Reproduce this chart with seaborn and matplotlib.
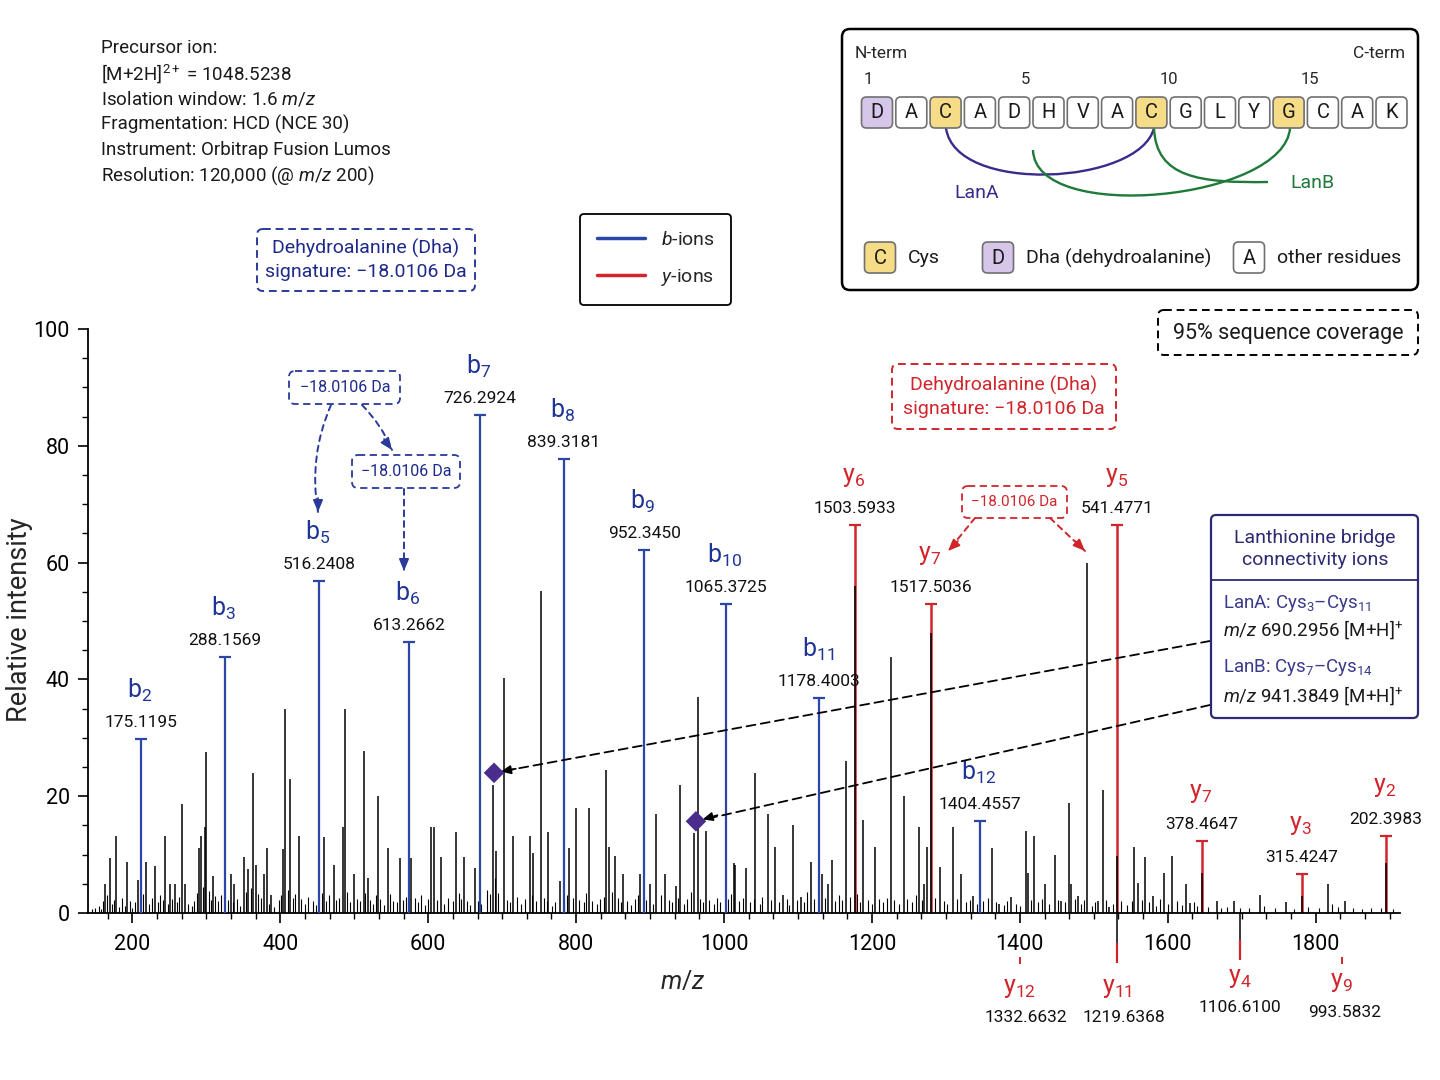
import matplotlib
matplotlib.use("Agg")
import matplotlib.pyplot as plt
import seaborn as sns
import pandas as pd
from matplotlib.patches import FancyBboxPatch, PathPatch
from matplotlib.path import Path
from matplotlib.lines import Line2D
from matplotlib.ticker import MultipleLocator

# ---------------- data ----------------
peak_mz = [163, 170, 178, 193, 207, 218, 231, 244, 251, 257, 267, 271, 290, 293, 298, 300,
           309, 333, 338, 351, 357, 363, 367, 378, 382, 388, 403, 407, 413, 425, 459, 472,
           485, 487, 500, 513, 518, 532, 545, 562, 577, 604, 608, 617, 638, 648, 663, 687,
           692, 703, 715, 737, 742, 752, 762, 778, 791, 800, 817, 841, 845, 853, 864, 886,
           900, 908, 920, 935, 941, 959, 965, 975, 1013, 1015, 1030, 1042, 1059, 1069, 1080,
           1093, 1104, 1117, 1133, 1140, 1146, 1165, 1177, 1188, 1204, 1226, 1243, 1264,
           1270, 1274, 1280, 1292, 1310, 1321, 1337, 1363, 1372, 1388, 1408, 1411, 1419,
           1434, 1447, 1456, 1466, 1469, 1478, 1491, 1506, 1512, 1521, 1531, 1555, 1560,
           1569, 1580, 1595, 1606, 1625, 1630, 1646, 1666, 1690, 1725, 1760, 1781, 1816,
           1839, 1895]
peak_int = [5.0, 9.5, 13.1, 8.7, 5.6, 8.8, 8.0, 13.1, 5.0, 5.0, 18.6, 4.9, 11.1, 13.1, 14.8, 27.6,
            6.3, 6.7, 5.0, 9.6, 7.6, 23.9, 8.3, 6.7, 11.2, 3.0, 11.0, 35.0, 22.9, 13.1, 13.0, 8.2,
            14.8, 35.0, 6.7, 27.7, 6.0, 20.0, 11.2, 9.5, 9.5, 14.8, 14.8, 9.6, 13.9, 9.6, 7.7, 21.9,
            10.7, 40.2, 13.1, 13.1, 10.3, 55.1, 13.9, 5.5, 11.2, 17.9, 17.9, 24.5, 11.3, 9.7, 6.7, 6.7,
            4.9, 16.9, 6.7, 4.7, 21.9, 13.7, 37.0, 14.0, 8.6, 8.2, 7.7, 23.9, 17.0, 11.3, 3.0,
            15.0, 2.7, 8.7, 6.7, 4.9, 9.1, 26.1, 56.0, 15.9, 11.3, 43.8, 20.0, 14.8,
            4.9, 11.3, 48.0, 7.9, 14.8, 6.7, 2.9, 11.2, 1.5, 2.8, 14.0, 6.8, 13.2,
            5.0, 10.0, 2.0, 18.8, 4.9, 2.9, 60.0, 2.0, 21.0, 1.0, 9.7, 11.3, 5.1,
            9.6, 2.9, 6.8, 9.7, 5.0, 1.7, 6.8, 2.0, 2.1, 3.0, 1.8, 2.9, 5.0,
            2.0, 8.6]

noise_mz = [145, 150, 155, 158, 160, 166, 172, 175, 182, 186, 190, 197, 200, 203, 210, 215, 222,
            226, 235, 238, 241, 248, 254, 260, 263, 275, 280, 284, 287, 295, 303, 306, 312, 316,
            320, 329, 336, 342, 346, 354, 360, 370, 374, 385, 392, 398, 401, 410, 417, 420, 428,
            433, 438, 444, 448, 456, 462, 466, 475, 480, 490, 494, 504, 508, 515, 521, 526, 529,
            535, 540, 549, 553, 558, 566, 570, 582, 586, 590, 595, 600, 612, 622, 627, 633, 641,
            644, 652, 657, 667, 672, 680, 684, 690, 695, 706, 710, 720, 725, 731, 740, 746, 756,
            760, 768, 772, 784, 788, 796, 804, 810, 813, 822, 828, 832, 838, 848, 857, 861, 869,
            874, 879, 883, 895, 904, 915, 925, 930, 938, 946, 950, 955, 968, 972, 980, 986, 990,
            995, 1005, 1010, 1020, 1025, 1035, 1040, 1048, 1052, 1063, 1075, 1085, 1088, 1098,
            1108, 1112, 1122, 1128, 1137, 1150, 1155, 1160, 1170, 1180, 1184, 1195, 1200, 1210,
            1215, 1220, 1230, 1236, 1248, 1254, 1260, 1268, 1285, 1298, 1302, 1315, 1327, 1333,
            1342, 1350, 1357, 1368, 1378, 1383, 1395, 1400, 1415, 1425, 1430, 1440, 1452, 1461,
            1474, 1483, 1487, 1497, 1502, 1516, 1526, 1537, 1545, 1552, 1565, 1575, 1584, 1590,
            1600, 1612, 1619, 1635, 1640, 1655, 1672, 1680, 1698, 1710, 1730, 1745, 1770, 1790,
            1805, 1822, 1830, 1850, 1862, 1875, 1888, 1905]
noise_int = [0.6, 0.8, 1.2, 0.7, 2.0, 3.0, 1.5, 2.2, 1.0, 2.5, 1.2, 2.0, 0.9, 1.8, 2.4, 3.2, 1.5,
             2.6, 1.8, 3.0, 2.2, 1.6, 2.4, 1.8, 2.8, 1.5, 1.2, 2.0, 3.5, 4.5, 3.8, 2.2, 2.9, 2.0,
             3.1, 2.2, 1.8, 2.4, 1.2, 3.6, 4.2, 3.2, 2.6, 1.5, 1.0, 2.2, 3.0, 4.0, 2.5, 3.2, 2.4,
             1.5, 2.8, 2.0, 1.4, 3.5, 2.0, 3.0, 2.2, 2.6, 3.6, 1.8, 2.4, 2.0, 3.4, 2.2, 1.6, 3.0,
             2.4, 1.4, 3.2, 2.0, 1.8, 2.2, 2.8, 2.6, 1.8, 3.0, 1.4, 2.4, 2.2, 1.6, 2.6, 2.0, 3.4,
             2.4, 2.0, 1.4, 2.0, 1.5, 4.0, 3.2, 6.0, 3.5, 2.2, 1.8, 2.8, 1.6, 2.4, 3.0, 2.0, 2.6,
             2.0, 1.2, 1.8, 2.2, 3.0, 2.6, 2.2, 1.8, 3.4, 2.0, 1.6, 2.4, 2.8, 3.6, 2.6, 1.8, 2.0,
             1.4, 2.4, 3.0, 2.2, 1.6, 3.0, 2.2, 1.8, 2.6, 1.6, 2.4, 3.6, 2.4, 1.8, 2.2, 1.5, 2.6,
             1.8, 2.4, 3.2, 2.0, 2.6, 1.8, 2.4, 1.5, 2.8, 2.2, 1.8, 2.4, 1.4, 2.2,
             1.8, 3.6, 2.4, 1.8, 2.6, 2.0, 3.0, 2.2, 2.8, 3.2, 1.8, 2.2, 1.6, 2.4,
             1.8, 2.6, 2.2, 1.6, 2.4, 1.8, 3.0, 2.2, 2.6, 2.0, 1.6, 2.4, 1.8, 2.2,
             1.6, 2.0, 2.6, 1.8, 1.4, 2.0, 1.6, 1.2, 2.2, 1.8, 2.4, 1.6, 2.2, 1.8,
             2.4, 1.6, 2.2, 1.2, 1.8, 2.2, 1.6, 2.0, 1.4, 2.0, 2.2, 1.8, 1.2, 2.4,
             1.6, 2.0, 1.4, 1.8, 1.2, 1.0, 0.8, 1.0, 0.8, 0.9, 1.2, 0.8, 0.7, 1.0,
             0.8, 1.6, 1.0, 0.8, 0.7, 0.8, 0.9, 0.6]

b_names = ["2", "3", "5", "6", "7", "8", "9", "10", "11", "12"]
b_mz = [212, 325, 453, 574, 670, 783, 892, 1003, 1129, 1346]
b_int = [29.8, 43.8, 56.8, 46.4, 85.3, 77.7, 62.2, 52.9, 36.8, 15.8]
b_labels = ["175.1195", "288.1569", "516.2408", "613.2662", "726.2924", "839.3181",
            "952.3450", "1065.3725", "1178.4003", "1404.4557"]

y_names = ["6", "7", "5", "7", "3", "2"]
y_mz = [1177, 1280, 1532, 1646, 1781, 1895]
y_int = [66.4, 52.9, 66.4, 12.3, 6.7, 13.2]
y_labels = ["1503.5933", "1517.5036", "541.4771", "378.4647", "315.4247", "202.3983"]

ylow_names = ["12", "11", "4", "9"]
ylow_mz = [1400, 1532, 1697, 1835]
ylow_labels = ["1332.6632", "1219.6368", "1106.6100", "993.5832"]

lan_mz = [689, 962]
lan_int = [24.0, 15.7]

sequence = list("DACADHVACGLYGCAK")
seq_kind = ["dha", "oth", "cys", "oth", "oth", "oth", "oth", "oth",
            "cys", "oth", "oth", "oth", "cys", "oth", "oth", "oth"]

# ---------------- style ----------------
BLUE = "#2a47a6"
BLUE_T = "#1f3595"
RED = "#d0252b"
PURPLE = "#4a2c8c"
NAVY = "#2c2a72"
GREEN = "#1f7a3a"

sns.set_theme(style="ticks")
plt.rcParams["font.family"] = ["Roboto", "DejaVu Sans"]
plt.rcParams["mathtext.fontset"] = "custom"
plt.rcParams["mathtext.rm"] = "Roboto"
plt.rcParams["mathtext.it"] = "Roboto:italic"
plt.rcParams["mathtext.bf"] = "Roboto:bold"

fig = plt.figure(figsize=(14.4, 10.8), dpi=100)
ax = fig.add_axes([88 / 1440, 1 - 913 / 1080, (1400 - 88) / 1440, (913 - 329) / 1080])

# spectrum
ax.vlines(noise_mz, 0, noise_int, color="black", lw=0.8, zorder=2)
ax.vlines(y_mz, 0, y_int, color=RED, lw=1.8, zorder=2.5)
ax.vlines(peak_mz, 0, peak_int, color="black", lw=1.1, zorder=3)
ax.vlines(b_mz, 0, b_int, color=BLUE, lw=1.6, zorder=4)
ax.plot(b_mz, b_int, ls="none", marker="_", ms=9, mew=1.6, color=BLUE, zorder=4)
ax.plot(y_mz, y_int, ls="none", marker="_", ms=9, mew=1.6, color=RED, zorder=4)

lan_df = pd.DataFrame({"mz": lan_mz, "intensity": lan_int})
sns.scatterplot(data=lan_df, x="mz", y="intensity", marker="D", s=110, color=PURPLE,
                edgecolor="none", ax=ax, zorder=6, legend=False)

NUM = dict(fontsize=12.5, color="#111111")
LET = dict(fontsize=18)

for n, mz, h, lab in zip(b_names, b_mz, b_int, b_labels):
    ax.annotate(lab, (mz, h), xytext=(0, 12), textcoords="offset points", ha="center",
                va="center", **NUM)
    ax.annotate(f"b$_{{{n}}}$", (mz, h), xytext=(-1, 35), textcoords="offset points",
                ha="center", va="center", color=BLUE_T, **LET)
for n, mz, h, lab in zip(y_names, y_mz, y_int, y_labels):
    ax.annotate(lab, (mz, h), xytext=(0, 12), textcoords="offset points", ha="center",
                va="center", **NUM)
    ax.annotate(f"y$_{{{n}}}$", (mz, h), xytext=(-1, 35), textcoords="offset points",
                ha="center", va="center", color=RED, **LET)

# y ions drawn below the axis
ax.vlines([1532, 1697], 0, [-5.1, -4.6], color="black", lw=1.1, clip_on=False)
ax.vlines([1532, 1697], [-5.1, -4.6], [-8.6, -8.0], color=RED, lw=1.6, clip_on=False)
ax.vlines([1400, 1835], -7.6, -8.8, color=RED, lw=1.4, clip_on=False)
low_off = [(-54, -75.6, 4), (-54, -75.6, 5), (-46.8, -68.4, 0), (-49.7, -71.3, 2)]
for (n, mz, lab), (dl, dn, dx) in zip(zip(ylow_names, ylow_mz, ylow_labels), low_off):
    ax.annotate(f"y$_{{{n}}}$", (mz, 0), xytext=(0, dl), textcoords="offset points",
                ha="center", va="center", color=RED, annotation_clip=False, **LET)
    ax.annotate(lab, (mz, 0), xytext=(dx, dn), textcoords="offset points", ha="center",
                va="center", annotation_clip=False, **NUM)

ax.set_xlim(140, 1914)
ax.set_ylim(0, 100)
ax.xaxis.set_major_locator(MultipleLocator(200))
ax.xaxis.set_minor_locator(MultipleLocator(200 / 6))
ax.yaxis.set_major_locator(MultipleLocator(20))
ax.yaxis.set_minor_locator(MultipleLocator(5))
ax.tick_params(axis="both", which="major", direction="out", length=7, width=1.2,
               labelsize=15.5, color="black", labelcolor="black")
ax.tick_params(axis="both", which="minor", direction="out", length=4, width=1.0, color="black")
ax.tick_params(axis="x", pad=8)
ax.tick_params(axis="y", pad=6)
sns.despine(ax=ax)
for s in ["left", "bottom"]:
    ax.spines[s].set_linewidth(1.3)
    ax.spines[s].set_color("black")
ax.set_xlabel("$m/z$", fontsize=18)
ax.set_ylabel("Relative intensity", fontsize=19.5)
ax.xaxis.set_label_coords((683 - 88) / 1312, (913 - 982) / 584)
ax.xaxis.label.set_va("center")
ax.yaxis.set_label_coords((20 - 88) / 1312, (913 - 620) / 584)
ax.yaxis.label.set_va("center")

# dashed arrows from the lanthionine box to the bridge ions
for (mz, h), py, off in zip(zip(lan_mz, lan_int), [641, 705], [(15.7, 2.9), (15.5, 4.4)]):
    ax.annotate("", xy=(mz, h), xytext=(1210, 1080 - py), textcoords="figure pixels",
                arrowprops=dict(arrowstyle="-", ls=(0, (5, 3)), lw=1.3, color="black",
                                shrinkA=0, shrinkB=9), zorder=5)
    ax.annotate("", xy=(mz, h), xytext=off, textcoords="offset points",
                arrowprops=dict(arrowstyle="-|>,head_length=0.5,head_width=0.22", lw=1.2,
                                color="black", shrinkA=0, shrinkB=5), zorder=5)

legend = fig.legend(
    handles=[Line2D([], [], color=BLUE, lw=2.5), Line2D([], [], color=RED, lw=2.5)],
    labels=["$b$-ions", "$y$-ions"], loc="upper left",
    bbox_to_anchor=(580 / 1440, 1 - 214 / 1080), borderaxespad=0, fontsize=14,
    handlelength=2.5, handletextpad=0.8, borderpad=0.85, labelspacing=0.95,
    frameon=True, fancybox=True, edgecolor="black", framealpha=1)
legend.get_frame().set_linewidth(1.3)

# ---------------- overlay in reference pixel coordinates ----------------
ov = fig.add_axes([0, 0, 1, 1], zorder=5)
ov.set_xlim(0, 1440)
ov.set_ylim(1080, 0)
ov.axis("off")
ov.patch.set_alpha(0)


def box(x0, y0, x1, y1, ec, ls="-", fc="white", lw=1.5, r=6, z=1):
    ov.add_patch(FancyBboxPatch((x0, y0), x1 - x0, y1 - y0,
                                boxstyle=f"round,pad=0,rounding_size={r}",
                                fc=fc, ec=ec, ls=ls, lw=lw, zorder=z))


def dash_arrow(p0, p1, head_from, color, rad=0.0):
    ov.annotate("", xy=p1, xytext=p0,
                arrowprops=dict(arrowstyle="-", ls=(0, (3, 2.5)), lw=1.4, color=color,
                                connectionstyle=f"arc3,rad={rad}", shrinkA=0, shrinkB=0))
    ov.annotate("", xy=p1, xytext=head_from,
                arrowprops=dict(arrowstyle="-|>,head_length=0.6,head_width=0.25", lw=1.2,
                                color=color, shrinkA=0, shrinkB=0))


# precursor info
info = ["Precursor ion:", "[M+2H]$^{2+}$ = 1048.5238", "Isolation window: 1.6 $m/z$",
        "Fragmentation: HCD (NCE 30)", "Instrument: Orbitrap Fusion Lumos",
        "Resolution: 120,000 (@ $m/z$ 200)"]
for i, line in enumerate(info):
    ov.text(101, 48 + i * 25.6, line, fontsize=13.5, va="center", ha="left", color="#1a1a1a")

# Dha signature boxes
DASH = (0, (4, 2.5))
box(257, 229, 475, 291, "#2a3a9a", ls=DASH, lw=1.4)
ov.text(366, 260, "Dehydroalanine (Dha)\nsignature: \u221218.0106 Da", ha="center",
        va="center", fontsize=14, color="#1e2a8a", linespacing=1.3)
box(892, 364, 1116, 429, RED, ls=DASH, lw=1.4)
ov.text(1004, 397, "Dehydroalanine (Dha)\nsignature: \u221218.0106 Da", ha="center",
        va="center", fontsize=14, color=RED, linespacing=1.3)

box(289, 371, 400, 404, "#2a3a9a", ls=DASH, lw=1.3)
ov.text(345, 388, "\u221218.0106 Da", ha="center", va="center", fontsize=11.5,
        color="#1e2a8a")
box(352, 455, 460, 488, "#2a3a9a", ls=DASH, lw=1.3)
ov.text(406, 472, "\u221218.0106 Da", ha="center", va="center", fontsize=11.5,
        color="#1e2a8a")
box(962, 486, 1067, 518, RED, ls=DASH, lw=1.3)
ov.text(1014, 502, "\u221218.0106 Da", ha="center", va="center", fontsize=11,
        color=RED)

dash_arrow((331, 405), (318, 512), (318, 498), "#2a3a9a", rad=0.15)
dash_arrow((362, 405), (392, 450), (384, 439), "#2a3a9a", rad=-0.1)
dash_arrow((404, 489), (404, 571), (404, 558), "#2a3a9a")
dash_arrow((975, 518), (948, 551), (958, 541), RED)
dash_arrow((1050, 518), (1085, 551), (1075, 541), RED)

# coverage box
box(1158, 310, 1418, 355, "black", ls=DASH, lw=1.4)
ov.text(1288, 333, "95% sequence coverage", ha="center", va="center", fontsize=15.5,
        color="#1a1a1a")

# lanthionine bridge box
box(1211, 515, 1418, 718, NAVY, lw=1.6, r=5)
ov.plot([1211, 1418], [580, 580], color=NAVY, lw=1.3)
ov.text(1315, 549, "Lanthionine bridge\nconnectivity ions", ha="center", va="center",
        fontsize=14, color=NAVY, linespacing=1.25)
ov.text(1223, 603, "LanA: Cys$_{3}$\u2013Cys$_{11}$", ha="left", va="center", fontsize=13.5,
        color="#3a3a8c")
ov.text(1223, 630, "$m/z$ 690.2956 [M+H]$^{+}$", ha="left", va="center", fontsize=13.5,
        color="#1a1a1a")
ov.text(1223, 668, "LanB: Cys$_{7}$\u2013Cys$_{14}$", ha="left", va="center", fontsize=13.5,
        color="#3a3a8c")
ov.text(1223, 696, "$m/z$ 941.3849 [M+H]$^{+}$", ha="left", va="center", fontsize=13.5,
        color="#1a1a1a")

# sequence panel
box(842, 29, 1418, 290, "black", lw=1.8, r=8)
ov.text(855, 54, "N-term", ha="left", va="center", fontsize=12.5)
ov.text(1405, 54, "C-term", ha="right", va="center", fontsize=12.5)
for num, px in zip(["1", "5", "10", "15"], [868, 1025, 1169, 1310]):
    ov.text(px, 79, num, ha="center", va="center", fontsize=12)

fills = {"dha": "#d6c7ea", "cys": "#f6dc86", "oth": "white"}
for i, (aa, kind) in enumerate(zip(sequence, seq_kind)):
    cx = 877 + i * 34.3
    box(cx - 15.5, 97, cx + 15.5, 128, "#707070", fc=fills[kind], lw=1.2, r=5, z=2)
    ov.text(cx, 112.5, aa, ha="center", va="center", fontsize=14.5, color="#1a1a1a", zorder=3)

lanA = Path([(946, 128), (955, 195), (1140, 185), (1154, 128)],
            [Path.MOVETO, Path.CURVE4, Path.CURVE4, Path.CURVE4])
lanB1 = Path([(1033, 150), (1035, 225), (1285, 200), (1290, 128)],
             [Path.MOVETO, Path.CURVE4, Path.CURVE4, Path.CURVE4])
lanB2 = Path([(1154, 128), (1156, 178), (1200, 183), (1268, 182)],
             [Path.MOVETO, Path.CURVE4, Path.CURVE4, Path.CURVE4])
ov.add_patch(PathPatch(lanA, fc="none", ec="#3b2a8c", lw=1.7, zorder=1.5))
ov.add_patch(PathPatch(lanB1, fc="none", ec=GREEN, lw=1.7, zorder=1.5))
ov.add_patch(PathPatch(lanB2, fc="none", ec=GREEN, lw=1.7, zorder=1.5))
ov.text(977, 193, "LanA", ha="center", va="center", fontsize=14, color="#3b2a8c")
ov.text(1312, 183, "LanB", ha="center", va="center", fontsize=14, color=GREEN)

for cx, aa, kind, txt in [(880, "C", "cys", "Cys"), (998, "D", "dha", "Dha (dehydroalanine)"),
                          (1249, "A", "oth", "other residues")]:
    box(cx - 15.5, 242, cx + 15.5, 273, "#707070", fc=fills[kind], lw=1.2, r=5, z=2)
    ov.text(cx, 258, aa, ha="center", va="center", fontsize=14.5, color="#1a1a1a", zorder=3)
    ov.text(cx + 28, 258, txt, ha="left", va="center", fontsize=14, color="#1a1a1a")

fig.savefig("out.png", dpi=100, facecolor="white")
